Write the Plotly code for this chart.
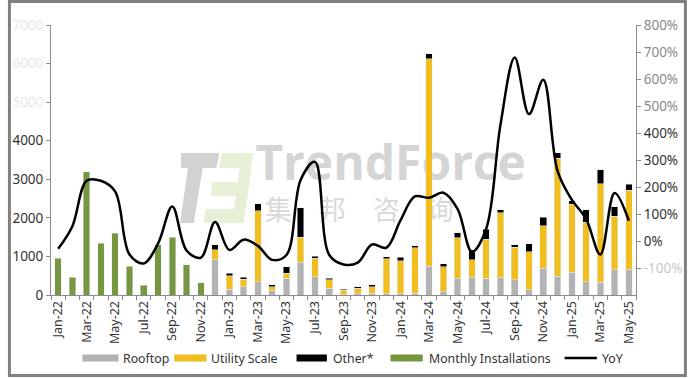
import plotly.graph_objects as go

# ---------------- data ----------------
months = ["Jan-22", "Feb-22", "Mar-22", "Apr-22", "May-22", "Jun-22", "Jul-22", "Aug-22",
          "Sep-22", "Oct-22", "Nov-22", "Dec-22", "Jan-23", "Feb-23", "Mar-23", "Apr-23",
          "May-23", "Jun-23", "Jul-23", "Aug-23", "Sep-23", "Oct-23", "Nov-23", "Dec-23",
          "Jan-24", "Feb-24", "Mar-24", "Apr-24", "May-24", "Jun-24", "Jul-24", "Aug-24",
          "Sep-24", "Oct-24", "Nov-24", "Dec-24", "Jan-25", "Feb-25", "Mar-25", "Apr-25",
          "May-25"]

monthly_installations = [950, 460, 3200, 1340, 1600, 750, 250, 1300, 1500, 790, 320] + [None] * 30

rooftop = [None] * 11 + [910, 150, 210, 350, 110, 430, 850, 470, 180, 10, 30, 40, 30, 30, 40,
                         740, 90, 430, 460, 440, 450, 390, 130, 690, 480, 590, 350, 330, 650, 670]

utility_scale = [None] * 11 + [260, 345, 200, 1830, 105, 130, 650, 480, 210, 110, 144, 177, 907,
                               864, 1183, 5380, 640, 1060, 450, 1010, 1680, 850, 990, 1100, 3060,
                               1760, 1530, 2560, 1390, 2050]

other = [None] * 11 + [130, 70, 50, 190, 45, 170, 760, 60, 45, 35, 45, 50, 60, 80, 55, 130, 75,
                       130, 260, 260, 80, 60, 210, 230, 150, 100, 330, 360, 250, 150]

yoy = [-29, 55, 223, 223, 183, -50, -83, -10, 128, -35, -62, 70, -33, 5, -18, -70, -52, 227, 293,
       -52, -87, -80, -13, -25, 77, 165, 160, 179, 118, -40, 45, 430, 680, 470, 597, 260, 153, 82,
       -50, 178, 75]

left_ticks = [0, 1000, 2000, 3000, 4000, 5000, 6000, 7000]
right_ticks = [-100, 0, 100, 200, 300, 400, 500, 600, 700, 800]

legend_labels = ["Rooftop", "Utility Scale", "Other*", "Monthly Installations", "YoY"]

# ---------------- geometry helpers ----------------
W, H = 694, 378
L, R, T, B = 44, 52, 25, 83
PW, PH = W - L - R, H - T - B


def fx(px):
    return (px - L) / PW


def fy(py):
    return (H - B - py) / PH


FONT = "Noto Sans"
C_GRAY, C_YEL, C_BLK, C_GRN = "#b3b3b3", "#f0be1e", "#000000", "#76963f"

x_idx = list(range(len(months)))

fig = go.Figure()

# watermark (drawn on the hidden main subplot so it sits under the bars)
fig.add_trace(go.Scatter(x=[23.3], y=[fy(168)], mode="text", text=["TrendForce"],
                         textfont=dict(family="Open Sans", size=48, color="#d5d5d5", weight="bold"),
                         hoverinfo="skip", showlegend=False))
fig.add_trace(go.Scatter(x=[21.1], y=[fy(213)], mode="text", text=["集　邦　咨　询"],
                         textfont=dict(family="Noto Sans CJK SC", size=27, color="#d9d9d9"),
                         hoverinfo="skip", showlegend=False))

# bars
fig.add_trace(go.Bar(x=x_idx, y=rooftop, name=legend_labels[0], marker_color=C_GRAY, yaxis="y2"))
fig.add_trace(go.Bar(x=x_idx, y=utility_scale, name=legend_labels[1], marker_color=C_YEL, yaxis="y2"))
fig.add_trace(go.Bar(x=x_idx, y=other, name=legend_labels[2], marker_color=C_BLK, yaxis="y2"))
fig.add_trace(go.Bar(x=x_idx, y=monthly_installations, name=legend_labels[3], marker_color=C_GRN,
                     yaxis="y2"))

# line
fig.add_trace(go.Scatter(x=x_idx, y=yoy, name=legend_labels[4], mode="lines", yaxis="y3",
                         line=dict(color="black", width=2.5, shape="spline", smoothing=1.0)))


def lt(v):
    s = f"{v}"
    if v >= 5000:
        return f"<span style='color:#e8e8e8'>{s}</span>"
    return s


def rt(v):
    s = f"{v}%"
    if v >= 500:
        return f"<span style='color:#8a8a8a'>{s}</span>"
    if v < 0:
        return f"<span style='color:#c8c8c8'>{s}</span>"
    return s


shapes = []
# logo of watermark
logo_gray = "#d2d2d2"
logo_green = "#e7efd6"


def poly(pts, color):
    path = "M " + " L ".join(f"{fx(a):.5f},{fy(b):.5f}" for a, b in pts) + " Z"
    return dict(type="path", path=path, xref="paper", yref="paper", fillcolor=color,
                line=dict(width=0), layer="below")


shapes.append(poly([(177, 153), (216, 153), (213, 168), (199, 168), (190, 223), (176, 223),
                    (184, 168), (177, 168)], logo_gray))
shapes.append(poly([(219, 153), (251, 153), (248, 168), (216, 168)], logo_green))
shapes.append(poly([(237, 168), (249, 168), (241, 223), (229, 223)], logo_green))
shapes.append(poly([(209, 182), (240, 182), (238, 196), (207, 196)], logo_green))
shapes.append(poly([(202, 209), (236, 209), (234, 223), (200, 223)], logo_green))

# manual legend
LY = 358
sw_h = 7


def swatch(x0, x1, color):
    return dict(type="rect", xref="paper", yref="paper", x0=fx(x0), x1=fx(x1),
                y0=fy(LY + sw_h / 2), y1=fy(LY - sw_h / 2), fillcolor=color, line=dict(width=0))


shapes.append(swatch(76, 113, C_GRAY))
shapes.append(swatch(170, 203, C_YEL))
shapes.append(swatch(295, 326, C_BLK))
shapes.append(swatch(391, 424, C_GRN))
shapes.append(dict(type="line", xref="paper", yref="paper", x0=fx(569), x1=fx(602),
                   y0=fy(LY), y1=fy(LY), line=dict(color="black", width=2.5)))

# frame around the picture
shapes.append(dict(type="rect", xref="paper", yref="paper", x0=fx(1.5), x1=fx(692.5),
                   y0=fy(375.5), y1=fy(1.5), line=dict(color="#808080", width=3),
                   fillcolor="rgba(0,0,0,0)", layer="above"))

annotations = []
for px, text in [(116, legend_labels[0]), (206, legend_labels[1]), (330, legend_labels[2]),
                 (428, legend_labels[3]), (605, legend_labels[4])]:
    annotations.append(dict(x=fx(px), y=fy(LY), xref="paper", yref="paper", text=text,
                            showarrow=False, xanchor="left", yanchor="middle",
                            font=dict(family=FONT, size=12.3, color="#333333")))

fig.update_layout(
    width=W, height=H,
    margin=dict(l=L, r=R, t=T, b=B, pad=0),
    paper_bgcolor="white", plot_bgcolor="white",
    barmode="stack", bargap=0.54,
    showlegend=False,
    font=dict(family=FONT, size=13, color="#333333"),
    xaxis=dict(range=[-0.5, len(months) - 0.5], tickmode="array", tickvals=x_idx[::2],
               ticktext=months[::2], tickangle=-90, ticks="", showline=True,
               linecolor="#8c8c8c", linewidth=1, showgrid=False, zeroline=False,
               tickfont=dict(family=FONT, size=12.5, color="#333333"),
               minor=dict(tickmode="array", tickvals=[i - 0.5 for i in range(len(months) + 1)],
                          ticks="outside", ticklen=4, tickcolor="#8c8c8c", showgrid=False)),
    yaxis=dict(range=[0, 1], visible=False, fixedrange=True),
    yaxis2=dict(overlaying="y", side="left", range=[0, 7000], tickmode="array",
                tickvals=left_ticks, ticktext=[lt(v) for v in left_ticks], showline=True,
                linecolor="#8c8c8c", ticks="outside", ticklen=4, tickcolor="#8c8c8c",
                showgrid=False, zeroline=False,
                tickfont=dict(family=FONT, size=13.5, color="#333333")),
    yaxis3=dict(overlaying="y", side="right", range=[-200, 800], tickmode="array",
                tickvals=right_ticks, ticktext=[rt(v) for v in right_ticks], showline=True,
                linecolor="#8c8c8c", ticks="outside", ticklen=4, tickcolor="#8c8c8c",
                showgrid=False, zeroline=False,
                tickfont=dict(family=FONT, size=13.5, color="#333333")),
    shapes=shapes,
    annotations=annotations,
)

fig.write_html("out.html", config={"displayModeBar": False},
               post_script="document.body.style.margin='0';")
